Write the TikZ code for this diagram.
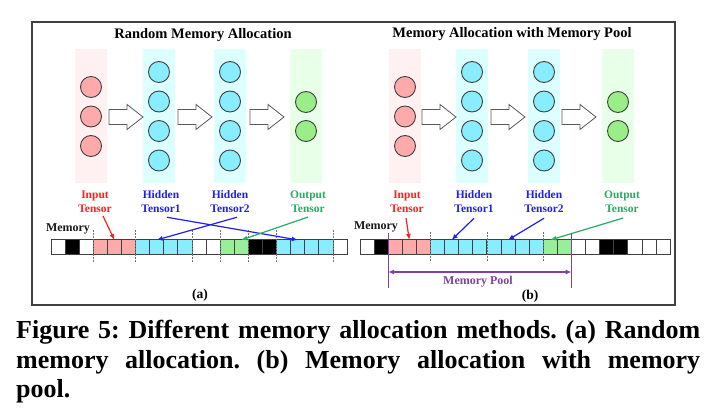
\documentclass[tikz,border=0pt]{standalone}
\usepackage{fontspec}
\setmainfont{Liberation Serif}
\usetikzlibrary{arrows.meta,calc}
\definecolor{bgpink}{HTML}{FFF1F1}
\definecolor{bgcyan}{HTML}{DCFFFF}
\definecolor{bggreen}{HTML}{E8FFE8}
\definecolor{npink}{HTML}{FFAAAA}
\definecolor{ncyan}{HTML}{88EEFF}
\definecolor{ngreen}{HTML}{99EE88}
\definecolor{cellW}{HTML}{FFFFFF}
\definecolor{cellK}{HTML}{000000}
\definecolor{cellP}{HTML}{FFAAAA}
\definecolor{cellC}{HTML}{88EEFF}
\definecolor{cellG}{HTML}{99EE99}
\definecolor{lred}{HTML}{FF2020}
\definecolor{lblue}{HTML}{2020E8}
\definecolor{lgreen}{HTML}{20B060}
\definecolor{lpurple}{HTML}{8040A8}
\definecolor{edge}{HTML}{404040}
\begin{document}
\frenchspacing
\begin{tikzpicture}[x=1pt,y=-1pt,
  frame/.style={draw=edge,line width=1.5pt},
  colbg/.style={minimum width=32pt,minimum height=134pt,inner sep=0pt,outer sep=0pt},
  neuron/.style={circle,draw=edge,line width=0.9pt,minimum size=21pt,inner sep=0pt},
  cell/.style={draw=edge,line width=1pt,minimum size=14.1pt,inner sep=0pt,outer sep=0pt},
  title/.style={font=\bfseries\fontsize{14.5}{16}\selectfont},
  lbl/.style={font=\bfseries\fontsize{11.5}{14}\selectfont,align=center,inner sep=1pt},
  memlbl/.style={font=\bfseries\fontsize{12}{14}\selectfont,text=black!90},
  sublbl/.style={font=\bfseries\fontsize{13.5}{15}\selectfont},
  sep/.style={draw=black!55,line width=0.6pt,dash pattern=on 1.5pt off 1.5pt},
  ptr/.style={line width=1.2pt,-{Latex[length=6pt,width=5pt]}},
  poolline/.style={draw=lpurple,line width=1.1pt},
  blockarr/.pic={\draw[draw=black!65,fill=white,line width=0.8pt] (0,-7.5) -- (18,-7.5) -- (18,-12.5) -- (34,0) -- (18,12.5) -- (18,7.5) -- (0,7.5) -- cycle;}
]
\useasboundingbox (0,0) rectangle (720,409);
\fill[white] (0,0) rectangle (720,409);
\draw[frame] (32,22) rectangle (675,305);

% ---------------- panel (a) ----------------
\node[title] (ta) at (203,35) {Random Memory Allocation};
\node[colbg,fill=bgpink] (ca1) at (91,116) {};
\node[colbg,fill=bgcyan] (ca2) at (159,116) {};
\node[colbg,fill=bgcyan] (ca3) at (230,116) {};
\node[colbg,fill=bggreen] (ca4) at (306,116) {};
\foreach \y [count=\k] in {87,116.5,146} {\node[neuron,fill=npink] (na1\k) at (91,\y) {};}
\foreach \y [count=\k] in {72,101.5,131,160.5} {\node[neuron,fill=ncyan] (na2\k) at (159,\y) {};}
\foreach \y [count=\k] in {72,101.5,131,160.5} {\node[neuron,fill=ncyan] (na3\k) at (230,\y) {};}
\foreach \y [count=\k] in {102,131} {\node[neuron,fill=ngreen] (na4\k) at (306,\y) {};}
\pic at (109,117) {blockarr};
\pic at (178,117) {blockarr};
\pic at (250,117) {blockarr};

\node[lbl,text=lred] (ia) at (95,202) {Input\\Tensor};
\node[lbl,text=lblue] (h1a) at (161,202) {Hidden\\Tensor1};
\node[lbl,text=lblue] (h2a) at (230,202) {Hidden\\Tensor2};
\node[lbl,text=lgreen] (oa) at (308,202) {Output\\Tensor};
\node[memlbl] (ma) at (68,229) {Memory};

\foreach \c [count=\i] in {W,K,W,P,P,P,C,C,C,C,W,W,G,G,K,K,C,C,C,C,W}
  {\node[cell,fill=cell\c] (La\i) at ({51+(\i-0.5)*14.1},247) {};}
\foreach \k in {3,6,10,12,14,16,20}
  {\draw[sep] ({51+\k*14.1},230) -- ({51+\k*14.1},263);}

\draw[ptr,draw=lred,-{Latex[length=6pt,width=5pt,fill=lred]}] ($(ia.south)+(8,2)$) -- (La5.north);
\draw[ptr,draw=lblue,-{Latex[length=6pt,width=5pt,fill=lblue]}] ($(h1a.south)+(6,3)$) -- (La18.north);
\draw[ptr,draw=lblue,-{Latex[length=6pt,width=5pt,fill=lblue]}] ($(h2a.south)+(7,3)$) -- (La8.north);
\draw[ptr,draw=lgreen,-{Latex[length=6pt,width=5pt,fill=lgreen]}] ($(oa.south)+(0,3)$) -- (La14.north);

\node[sublbl] (sa) at (200,295) {(a)};

% ---------------- panel (b) ----------------
\node[title] (tb) at (512,34) {Memory Allocation with Memory Pool};
\node[colbg,fill=bgpink] (cb1) at (405,116) {};
\node[colbg,fill=bgcyan] (cb2) at (472,116) {};
\node[colbg,fill=bgcyan] (cb3) at (544,116) {};
\node[colbg,fill=bggreen] (cb4) at (618,116) {};
\foreach \y [count=\k] in {87,116.5,146} {\node[neuron,fill=npink] (nb1\k) at (405,\y) {};}
\foreach \y [count=\k] in {72,101.5,131,160.5} {\node[neuron,fill=ncyan] (nb2\k) at (472,\y) {};}
\foreach \y [count=\k] in {72,101.5,131,160.5} {\node[neuron,fill=ncyan] (nb3\k) at (544,\y) {};}
\foreach \y [count=\k] in {102,131} {\node[neuron,fill=ngreen] (nb4\k) at (618,\y) {};}
\pic at (422,117) {blockarr};
\pic at (491,117) {blockarr};
\pic at (562,117) {blockarr};

\node[lbl,text=lred] (ib) at (407,202) {Input\\Tensor};
\node[lbl,text=lblue] (h1b) at (474,202) {Hidden\\Tensor1};
\node[lbl,text=lblue] (h2b) at (544,202) {Hidden\\Tensor2};
\node[lbl,text=lgreen] (ob) at (622,202) {Output\\Tensor};
\node[memlbl] (mb) at (376,227) {Memory};

\foreach \c [count=\i] in {W,K,P,P,P,C,C,C,C,C,C,C,C,G,G,W,W,K,K,W,W,W}
  {\node[cell,fill=cell\c] (Lb\i) at ({360+(\i-0.5)*14.1},247) {};}
\foreach \k in {5,9,13}
  {\draw[sep] ({360+\k*14.1},232) -- ({360+\k*14.1},262);}

\draw[ptr,draw=lred,-{Latex[length=6pt,width=5pt,fill=lred]}] ($(ib.south)+(-1,4)$) -- (Lb4.north);
\draw[ptr,draw=lblue,-{Latex[length=6pt,width=5pt,fill=lblue]}] ($(h1b.south)+(0,4)$) -- (Lb7.north);
\draw[ptr,draw=lblue,-{Latex[length=6pt,width=5pt,fill=lblue]}] ($(h2b.south)+(0,4)$) -- (Lb11.north);
\draw[ptr,draw=lgreen,-{Latex[length=6pt,width=5pt,fill=lgreen]}] ($(ob.south)+(1,4)$) -- (Lb14.north);

\coordinate (pLt) at (388.2,233);
\coordinate (pLb) at (388.2,288);
\coordinate (pRt) at (571.5,233);
\coordinate (pRb) at (571.5,288);
\coordinate (pLm) at (388.2,272);
\coordinate (pRm) at (571.5,272);
\draw[poolline] (pLt) -- (pLb);
\draw[poolline] (pRt) -- (pRb);
\draw[poolline,{Latex[length=6pt,width=5pt]}-{Latex[length=6pt,width=5pt]}] (pLm) -- (pRm);
\node[font=\bfseries\fontsize{12}{14}\selectfont,text=lpurple] (mp) at (478,282) {Memory Pool};
\node[sublbl] (sb) at (530,296) {(b)};

% ---------------- caption ----------------
\node[anchor=base west,inner sep=0pt,font=\bfseries\fontsize{26}{29}\selectfont] (cap1) at (16,338)
  {\makebox[684pt][s]{Figure 5: Different memory allocation methods. (a) Random}};
\node[anchor=base west,inner sep=0pt,font=\bfseries\fontsize{26}{29}\selectfont] (cap2) at (16,368)
  {\makebox[684pt][s]{memory allocation. (b) Memory allocation with memory}};
\node[anchor=base west,inner sep=0pt,font=\bfseries\fontsize{26}{29}\selectfont] (cap3) at (16,397)
  {pool.};
\end{tikzpicture}
\end{document}
